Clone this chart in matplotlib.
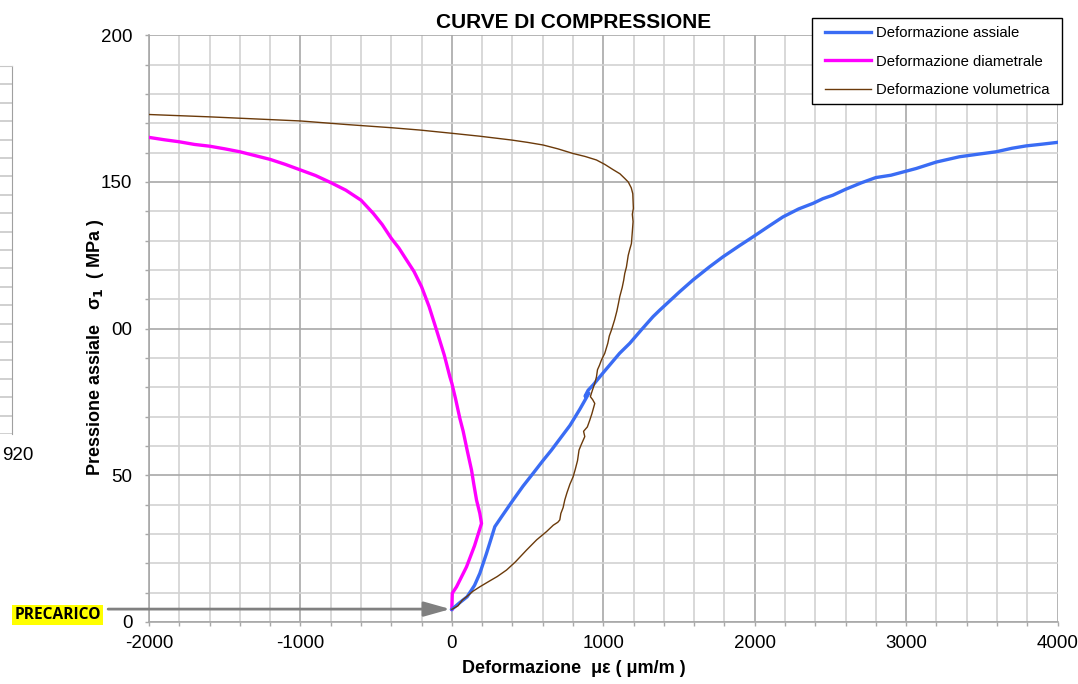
import matplotlib
matplotlib.use("Agg")
import matplotlib.pyplot as plt
from matplotlib.ticker import MultipleLocator
from matplotlib.patches import Rectangle

plt.rcParams['font.family'] = ['Liberation Sans', 'DejaVu Sans']
plt.rcParams['axes.unicode_minus'] = False
plt.rcParams['mathtext.default'] = 'bf'

# ---------------- data ----------------
axial_pts = [(0, 4.3), (50, 6.5), (101, 8.6), (150, 12.5), (185, 16.6), (229, 23.4), (260, 28.5),
             (284, 32.5), (330, 36.0), (405, 41.6), (470, 46.3), (537, 50.7), (600, 54.9),
             (658, 58.6), (700, 61.5), (780, 67.0), (845, 72.5), (878, 75.5), (905, 78.0),
             (880, 77.0), (900, 79.0), (933, 80.8), (1000, 85.0), (1108, 91.6), (1175, 95.0),
             (1250, 99.5), (1329, 104.1), (1373, 106.3), (1440, 109.5), (1505, 112.6),
             (1593, 116.6), (1700, 121.0), (1791, 124.5), (1900, 128.3), (1989, 131.3),
             (2090, 134.8), (2187, 138.1), (2290, 140.8), (2385, 142.7), (2450, 144.3),
             (2517, 145.5), (2600, 147.5), (2704, 149.7), (2800, 151.5), (2900, 152.3),
             (3067, 154.6), (3200, 156.8), (3353, 158.6), (3480, 159.5), (3595, 160.3),
             (3700, 161.5), (3793, 162.3), (3900, 162.9), (4000, 163.5)]

diam_pts = [(0, 4.3), (3, 9.8), (31, 12.0), (97, 18.8), (150, 26.0), (196, 33.6), (185, 37.0),
            (163, 41.6), (145, 47.0), (130, 51.8), (101, 58.6), (75, 65.0), (53, 69.4), (25, 76.0),
            (0, 81.4), (-13, 83.6), (-50, 91.0), (-101, 99.5), (-150, 107.5), (-200, 114.3),
            (-250, 119.5), (-299, 123.4), (-350, 127.5), (-400, 130.8), (-460, 135.5),
            (-519, 139.3), (-600, 143.8), (-700, 147.2), (-800, 149.8), (-900, 152.2),
            (-1000, 154.1), (-1100, 156.0), (-1200, 157.7), (-1300, 159.0), (-1400, 160.3),
            (-1500, 161.3), (-1600, 162.2), (-1700, 162.8), (-1800, 163.7), (-1900, 164.4),
            (-2000, 165.2)]

vol_pts = [(0, 4.3), (40, 5.5), (70, 7.5), (97, 8.6), (140, 10.5), (185, 12.0), (250, 14.0),
           (300, 15.5), (361, 17.7), (420, 20.5), (493, 24.5), (560, 28.0), (625, 30.8),
           (670, 33.0), (700, 34.0), (713, 34.8), (720, 37.0), (735, 39.0), (746, 41.6),
           (760, 44.0), (780, 47.0), (801, 49.5), (815, 52.0), (830, 55.0), (840, 58.6),
           (855, 60.5), (878, 63.2), (870, 65.0), (895, 66.5), (911, 68.8), (925, 71.0),
           (944, 74.5), (930, 75.8), (915, 76.8), (922, 78.0), (935, 80.0), (944, 81.4),
           (955, 83.5), (962, 86.0), (975, 87.5), (988, 89.3), (1010, 91.6), (1030, 95.0),
           (1040, 97.5), (1054, 99.5), (1075, 103.0), (1090, 106.0), (1100, 108.5),
           (1109, 110.9), (1125, 114.0), (1135, 116.5), (1142, 118.8), (1153, 121.0),
           (1165, 125.0), (1175, 127.0), (1186, 129.0), (1192, 133.0), (1197, 136.5),
           (1192, 139.0), (1199, 141.0), (1197, 143.5), (1195, 146.0), (1185, 148.0),
           (1165, 150.0), (1142, 151.2), (1110, 152.8), (1065, 154.2), (1010, 156.0),
           (955, 157.5), (880, 158.7), (801, 159.7), (700, 161.3), (603, 162.6), (500, 163.5),
           (394, 164.3), (185, 165.6), (0, 166.6), (-211, 167.7), (-400, 168.5), (-700, 169.6),
           (-1000, 170.8), (-1300, 171.5), (-1600, 172.2), (-2000, 173.0)]

legend_labels = ["Deformazione assiale", "Deformazione diametrale", "Deformazione volumetrica"]
x_ticks = [-2000, -1000, 0, 1000, 2000, 3000, 4000]
y_ticks = [0, 50, 100, 150, 200]
# as printed in the reference (the leading "1" of 100 is hidden by the axis title)
y_tick_labels = ["0", "50", "00", "150", "200"]
precarico_y = 4.4

axial_x, axial_y = zip(*axial_pts)
diam_x, diam_y = zip(*diam_pts)
vol_x, vol_y = zip(*vol_pts)

W, H = 1078, 684

# ---------------- figure ----------------
fig = plt.figure(figsize=(W / 100, H / 100), dpi=100)

# fragment of a neighbouring chart on the left edge
axf = fig.add_axes([0, (H - 434) / H, 12.5 / W, (434 - 66) / H])
axf.set_xlim(0, 1)
axf.set_ylim(0, 20)
axf.set_xticks([])
axf.set_yticks(range(0, 21))
axf.yaxis.grid(True, color='#c8c8c8', lw=1.2)
axf.tick_params(left=False, labelleft=False)
for s in ['left', 'bottom']:
    axf.spines[s].set_visible(False)
axf.spines['top'].set_color('#c8c8c8')
axf.spines['right'].set_color('#a0a0a0')
fig.text(2 / W, 1 - 456 / H, "920", fontsize=13.5, va='center', ha='left')

ax = fig.add_axes([149 / W, (H - 622) / H, 908.5 / W, 586.7 / H])
ax.set_xlim(-2000, 4000)
ax.set_ylim(0, 200)
ax.xaxis.set_major_locator(MultipleLocator(1000))
ax.xaxis.set_minor_locator(MultipleLocator(200))
ax.yaxis.set_major_locator(MultipleLocator(50))
ax.yaxis.set_minor_locator(MultipleLocator(10))
ax.grid(True, which='minor', color='#d2d2d2', lw=1.2)
ax.grid(True, which='major', color='#a8a8a8', lw=1.2)
ax.set_axisbelow(True)
for s in ['top', 'right']:
    ax.spines[s].set_visible(False)
for s in ['left', 'bottom']:
    ax.spines[s].set_color('#a8a8a8')
    ax.spines[s].set_linewidth(1.2)
ax.tick_params(which='both', direction='out', color='#a8a8a8', length=3, width=1)
ax.tick_params(axis='both', which='major', labelsize=13.5)
ax.tick_params(axis='y', pad=9)
ax.tick_params(axis='x', pad=6)
ax.set_xticks(x_ticks)
ax.set_yticks(y_ticks)
ax.set_yticklabels(y_tick_labels)

l1, = ax.plot(axial_x, axial_y, color='#3a6cf4', lw=2.4, label=legend_labels[0], zorder=4)
l2, = ax.plot(diam_x, diam_y, color='#ff00ff', lw=2.4, label=legend_labels[1], zorder=3)
l3, = ax.plot(vol_x, vol_y, color='#6b3a0a', lw=1.0, label=legend_labels[2], zorder=5)

fig.text(574 / W, 1 - 28 / H, "CURVE DI COMPRESSIONE", fontsize=15, fontweight='bold',
         ha='center', va='baseline')
ax.set_xlabel("Deformazione  με ( μm/m )", fontsize=13, fontweight='bold')
ax.xaxis.set_label_coords((574 - 149) / 908.5, -(660 - 622) / 586.7)
ax.set_ylabel("Pressione assiale   σ$_{1}$  ( MPa )", fontsize=13, fontweight='bold')
ax.yaxis.set_label_coords(-(149 - 106) / 908.5, (622 - 347) / 586.7)

# precarico arrow
ax.annotate("", xy=(-10, precarico_y), xytext=(-2270, precarico_y),
            arrowprops=dict(arrowstyle='-|>,head_length=1.6,head_width=0.45', color='#808080',
                            lw=2, shrinkA=0, shrinkB=0), annotation_clip=False, zorder=6)
fig.text(57.5 / W, 1 - 615 / H, "PRECARICO", fontsize=11.2, fontweight='bold',
         family=['Open Sans', 'DejaVu Sans'], ha='center', va='center',
         bbox=dict(facecolor='#ffff00', edgecolor='none', pad=1.8))

# legend with a separately drawn frame
fig.patches.append(Rectangle((812 / W, 1 - 104 / H), 250 / W, 86 / H, transform=fig.transFigure,
                             facecolor='white', edgecolor='black', lw=1.0, zorder=1))
leg = fig.legend(handles=[l1, l2, l3], loc='upper left', bbox_to_anchor=(825 / W, 1 - 26 / H),
                 fontsize=10.7, frameon=False, borderaxespad=0, borderpad=0,
                 handlelength=3.1, labelspacing=0.98, handletextpad=0.33)
leg.set_zorder(2)

fig.savefig("out.png", dpi=100)
